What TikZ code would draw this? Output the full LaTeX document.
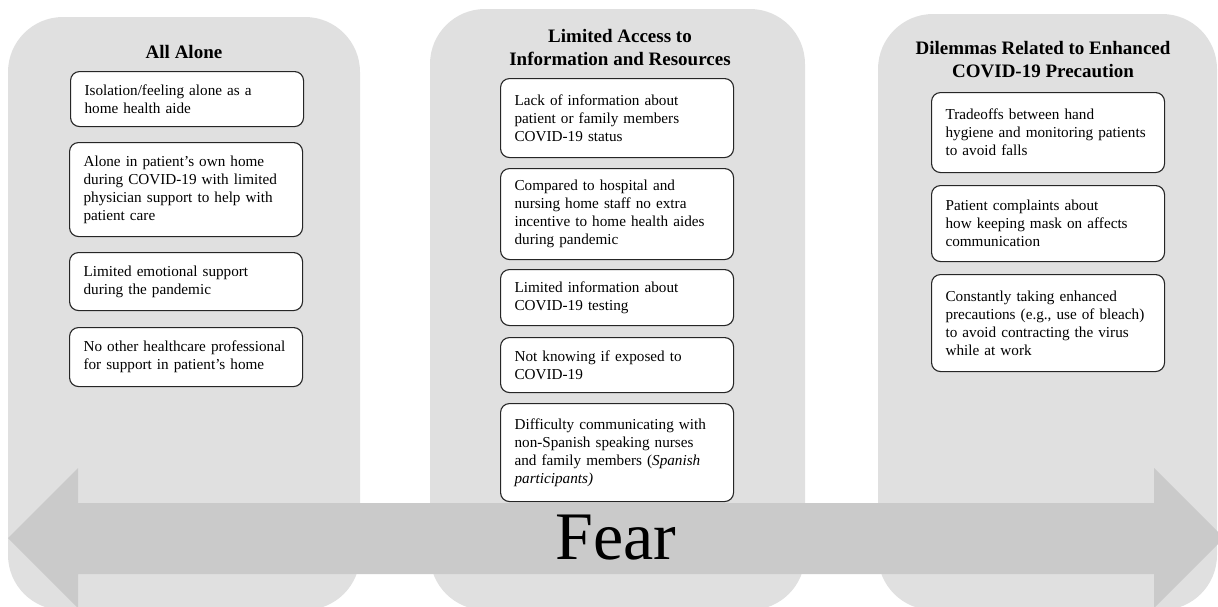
\documentclass[tikz,border=0pt]{standalone}
\usepackage{fontspec}
\setmainfont{Liberation Serif}
\definecolor{colgray}{RGB}{224,224,224}
\definecolor{arrowgray}{RGB}{202,202,202}
\begin{document}
\begin{tikzpicture}[%
    x=1pt,y=-1pt,
    column/.style={fill=colgray,rounded corners=55pt},
    item/.style={%
      draw=black!85,line width=1.1pt,fill=white,rounded corners=9pt,
      anchor=north west,align=left,inner xsep=14pt,inner ysep=0pt,
      text width=205pt,font=\fontsize{15.2}{18}\selectfont},
    heading/.style={align=center,font=\fontsize{19}{23}\selectfont\bfseries}
    ]
    \useasboundingbox(0,0)rectangle(1218,606);
    \clip(0,0)rectangle(1218,606);
    \path[column](8,17)rectangle(360,610);
    \path[column](430,9)rectangle(805,610);
    \path[column](878,14)rectangle(1217,610);
    \node[heading]at(184,52)(ta){All Alone};
    \node[heading]at(620,48)(tb){Limited Access to\\Information and Resources};
    \node[heading]at(1043,60)(tc){Dilemmas Related to Enhanced\\COVID-19 Precaution};
    \node[item,minimum height=55pt]at(70,71)(a1){Isolation/feeling alone as a\\home health aide};
    \node[item,minimum height=94pt]at(69,142)(a2){Alone in patient’s own home\\during COVID-19 with limited\\physician support to help with\\patient care};
    \node[item,minimum height=58pt]at(69,252)(a3){Limited emotional support\\during the pandemic};
    \node[item,minimum height=59pt]at(69,327)(a4){No other healthcare professional\\for support in patient’s home};
    \node[item,minimum height=79pt]at(500,78)(b1){Lack of information about\\patient or family members\\COVID-19 status};
    \node[item,minimum height=91pt]at(500,168)(b2){Compared to hospital and\\nursing home staff no extra\\incentive to home health aides\\during pandemic};
    \node[item,minimum height=56pt]at(500,269)(b3){Limited information about\\COVID-19 testing};
    \node[item,minimum height=55pt]at(500,337)(b4){Not knowing if exposed to\\COVID-19};
    \node[item,minimum height=98pt]at(500,403)(b5){Difficulty communicating with\\non-Spanish speaking nurses\\and family members (\textit{Spanish}\\\textit{participants)}};
    \node[item,minimum height=80pt]at(931,92)(c1){Tradeoffs between hand\\hygiene and monitoring patients\\to avoid falls};
    \node[item,minimum height=76pt]at(931,185)(c2){Patient complaints about\\how keeping mask on affects\\communication};
    \node[item,minimum height=97pt]at(931,274)(c3){Constantly taking enhanced\\precautions (e.g., use of bleach)\\to avoid contracting the virus\\while at work};
    \fill[arrowgray](8,538)--(78,468)--(78,503)--(1154,503)--(1154,468)--(1224,538)
    --(1154,608)--(1154,574)--(78,574)--(78,608)--cycle;
    \node[inner sep=0pt,font=\fontsize{68}{68}\selectfont]at(616,538)(fear){Fear};
  \end{tikzpicture}
\end{document}
